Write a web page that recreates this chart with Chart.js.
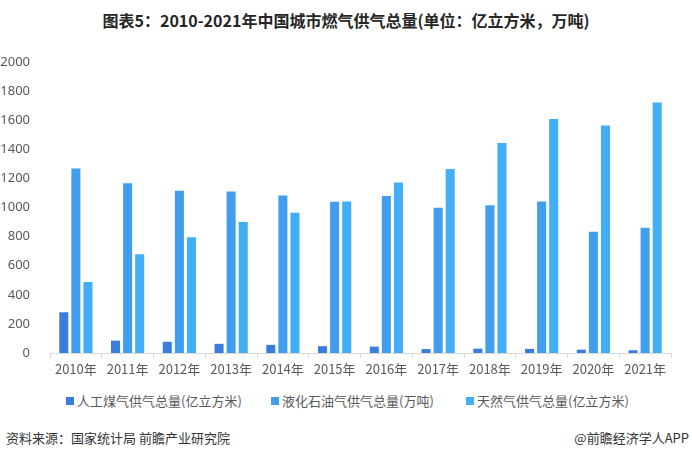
<!DOCTYPE html>
<html>
<head>
<meta charset="utf-8">
<script src="https://cdn.jsdelivr.net/npm/chart.js@4/dist/chart.umd.min.js"></script>
<style>
  html, body { margin: 0; padding: 0; background: #fff; }
  body { width: 692px; height: 460px; position: relative; overflow: hidden;
         font-family: "Noto Sans CJK SC", "Noto Sans", sans-serif; color: #595959; }
  #title { position: absolute; top: 8px; left: 0; width: 692px; text-align: center;
           font-size: 16px; font-weight: bold; color: #262626; }
  #wrap { position: absolute; left: 0; top: 0; width: 692px; height: 385px; }
  .legend-item { position: absolute; top: 391px; font-size: 13px; color: #595959; white-space: nowrap; }
  .legend-item i { display: inline-block; width: 8px; height: 8px; margin-right: 3px; vertical-align: 1px; }
  #source { position: absolute; left: 6px; top: 428px; font-size: 13px; color: #333; }
  #brand { position: absolute; right: 3px; top: 428px; font-size: 13px; color: #333; }
</style>
</head>
<body>
<div id="title">图表5：2010-2021年中国城市燃气供气总量(单位：亿立方米，万吨)</div>
<div id="wrap"><canvas id="gasChart"></canvas></div>
<div id="legend"></div>
<div id="source">资料来源：国家统计局 前瞻产业研究院</div>
<div id="brand">@前瞻经济学人APP</div>
<script>
  // values
  const years = ["2010年", "2011年", "2012年", "2013年", "2014年", "2015年",
                 "2016年", "2017年", "2018年", "2019年", "2020年", "2021年"];
  const coalGas = [280, 85, 77, 63, 56, 47, 44, 27, 30, 28, 23, 19];
  const lpg = [1268, 1166, 1115, 1110, 1083, 1039, 1079, 999, 1015, 1041, 834, 861];
  const naturalGas = [488, 679, 795, 901, 964, 1041, 1172, 1264, 1444, 1609, 1564, 1721];
  const seriesNames = ["人工煤气供气总量(亿立方米)", "液化石油气供气总量(万吨)", "天然气供气总量(亿立方米)"];
  const seriesColors = ["#3b7ddd", "#409eec", "#42aef5"];
  const legendLeft = [66, 271, 466];

  const labelColor = "#595959";
  const axisColor = "#d9d9d9";

  function buildLegend() {
    const host = document.getElementById("legend");
    seriesNames.forEach((name, i) => {
      const item = document.createElement("div");
      item.className = "legend-item";
      item.style.left = legendLeft[i] + "px";
      item.innerHTML = '<i style="background:' + seriesColors[i] + '"></i>' + name;
      host.appendChild(item);
    });
  }

  function renderChart() {
    const datasets = [coalGas, lpg, naturalGas].map((values, i) => ({
      label: seriesNames[i],
      data: values,
      backgroundColor: seriesColors[i],
      borderWidth: 0,
      categoryPercentage: 0.7,
      barPercentage: 0.75
    }));
    new Chart(document.getElementById("gasChart"), {
      type: "bar",
      data: { labels: years, datasets: datasets },
      options: {
        responsive: true,
        maintainAspectRatio: false,
        animation: false,
        layout: { padding: { top: 62, right: 21, left: 0, bottom: 0 } },
        plugins: { legend: { display: false }, tooltip: { enabled: false } },
        scales: {
          x: {
            afterFit: (scale) => { scale.height = 32; },
            grid: { display: true, drawOnChartArea: false, drawTicks: true, tickLength: 5, color: axisColor },
            border: { color: axisColor },
            ticks: { color: labelColor, font: { size: 13, family: "'Noto Sans CJK SC', sans-serif" }, padding: 3, maxRotation: 0 }
          },
          y: {
            min: 0,
            max: 2000,
            afterFit: (scale) => { scale.width = 50; },
            grid: { display: false },
            border: { display: false },
            ticks: {
              stepSize: 200,
              color: labelColor,
              font: { size: 13, family: "'Noto Sans', sans-serif" },
              padding: 12,
              callback: (value) => String(value)
            }
          }
        }
      }
    });
  }

  buildLegend();
  renderChart();
</script>
</body>
</html>
